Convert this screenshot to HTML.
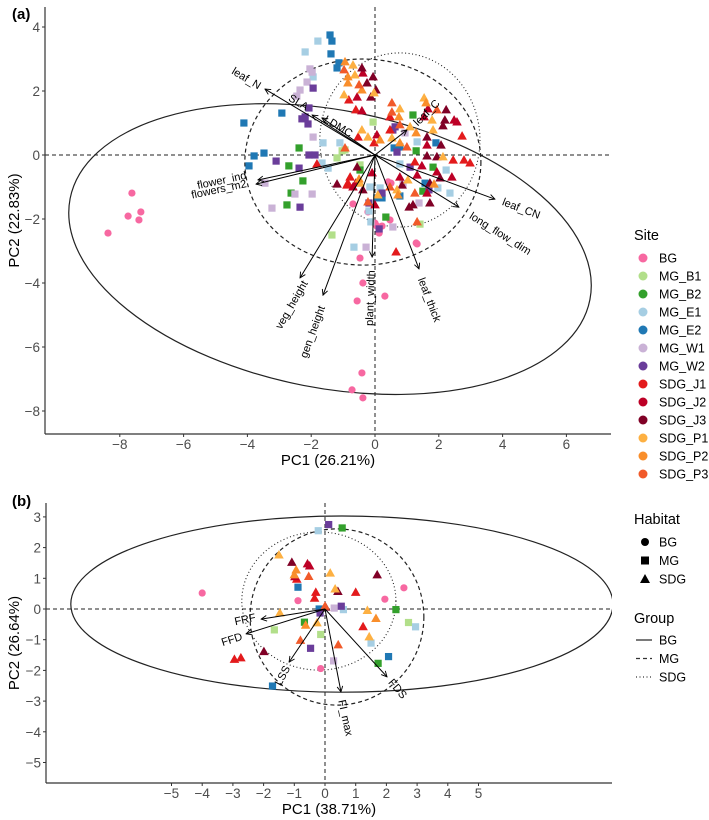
<!DOCTYPE html>
<html><head><meta charset="utf-8">
<style>
html,body{margin:0;padding:0;background:#fff;}
svg{display:block;font-family:"Liberation Sans",Arial,sans-serif;}
</style></head>
<body>
<svg id="chart" width="709" height="820" viewBox="0 0 709 820" xmlns="http://www.w3.org/2000/svg">
<defs>
<marker id="ah" viewBox="0 0 10 10" refX="9" refY="5" markerWidth="7" markerHeight="7" orient="auto-start-reverse"><path d="M1,1 L9,5 L1,9" fill="none" stroke="#000" stroke-width="1.3"/></marker>
<clipPath id="clipA"><rect x="45" y="7" width="566" height="427"/></clipPath>
<clipPath id="clipB"><rect x="46" y="503" width="566" height="280"/></clipPath>
</defs>
<g id="panelA"></g>
<g id="panelB"></g>
<g id="legend"></g>
</svg>
<script>
// ---------- Panel (a) data: site -> [PC1, PC2] ----------
const A_BG=[[-7.62,-1.19],[-7.74,-1.91],[-7.40,-2.03],[-7.34,-1.78],[-8.37,-2.44],[0.41,-0.84],[-0.69,-1.53],[-0.22,-1.78],[0.47,-2.03],[0.13,-2.44],[0.06,-2.22],[0.22,-2.22],[1.32,-2.78],[-0.47,-3.22],[-0.38,-4.0],[-0.56,-4.56],[0.31,-4.41],[-0.41,-6.81],[-0.72,-7.34],[-0.38,-7.59],[0.50,-0.88],[0,-2.13],[1.29,-2.75]];
const A_MG_B1=[[-0.94,0.16],[-1.19,-0.09],[-1.35,-2.5],[-0.06,1.03],[-1.03,0.13],[1.41,-2.16],[-0.47,-0.31]];
const A_MG_B2=[[-2.38,0.22],[-2.70,-0.34],[-2.26,-0.81],[-2.63,-1.19],[-2.76,-1.56],[1.19,1.25],[1.29,0.13],[1.82,-0.38],[1.50,-1.13],[0.34,-1.94],[-0.47,-0.47]];
const A_MG_E1=[[-1.79,3.56],[-2.19,3.22],[-1.94,2.44],[-1.63,0.38],[-1.10,0.38],[-1.47,-0.41],[-1.66,-0.25],[-0.66,-2.88],[0.78,-0.28],[2.23,-0.47],[1.97,-1.03],[-0.16,-1.0],[1.32,0.41],[2.35,-1.19],[-0.13,-2.09],[-0.19,-1.75],[0.16,-1.03]];
const A_MG_E2=[[-1.41,3.75],[-1.35,3.56],[-1.38,3.16],[-1.19,2.72],[-1.13,2.88],[-2.92,1.31],[-4.11,1.0],[-3.79,-0.03],[-3.48,0.06],[-3.95,-0.34],[0.60,0.22],[0.78,0.25],[1.91,0.38],[1.57,-0.88],[0.22,-1.34],[0.78,-1.28],[0.06,-1.34]];
const A_MG_W1=[[-2.04,2.69],[-1.97,2.59],[-2.13,2.28],[-2.35,2.03],[-2.45,1.84],[-1.94,0.56],[-2.51,-1.22],[-1.97,-1.22],[-3.23,-1.66],[-3.45,-0.88],[0.88,-0.91],[1.38,-1.5],[0.94,0.69],[-0.28,-2.88],[0.56,-2.25]];
const A_MG_W2=[[-1.94,2.09],[-2.07,1.47],[-2.29,1.13],[-2.19,1.19],[-2.10,0.97],[-3.10,-0.19],[-2.07,0],[-1.88,0],[-2.38,-0.41],[-2.35,-1.63],[0.56,0.78],[0.63,0.88],[1.10,-0.38],[1.69,-1.09],[0.69,0.09],[0.13,-2.31],[-0.19,-1.5],[0.22,-1.19]];
const A_SDG_J1=[[-0.82,1.72],[-0.60,1.41],[0.47,1.19],[0.47,0.78],[2.73,0.59],[-0.53,0.56],[-0.03,0.38],[2.45,-0.16],[2.79,-0.16],[2.98,-0.25],[1.25,-0.22],[-1.82,-0.28],[-0.78,-0.69],[-0.88,-0.94],[0.66,-3.03],[-0.85,-0.88]];
const A_SDG_J2=[[-0.38,2.56],[-0.56,1.81],[-0.41,1.38],[1.66,1.44],[1.54,1.19],[2.48,1.09],[2.57,1.03],[0.06,0.63],[1.63,0.31],[1.47,-0.34],[1.94,-0.53],[2.41,-0.69],[1.32,-0.63],[0.78,-0.69],[-0.09,-0.56],[-0.69,-1.0],[1.63,-1.19],[0,-1.56],[-0.60,-0.88]];
const A_SDG_J3=[[-0.41,2.72],[-0.06,2.44],[-0.25,2.25],[-0.13,1.81],[0.03,2.03],[2.23,1.41],[2.19,1.09],[1.63,0.56],[2.13,0.91],[2.07,0.31],[1.63,-0.03],[1.94,-0.06],[2.04,-0.72],[1.72,-0.88],[0.85,-0.94],[1.72,-1.5],[1.19,-1.56],[-0.56,-0.38],[-1.19,-0.91],[-0.38,-1.09],[1.07,-1.63]];
const A_SDG_P1=[[-0.69,2.81],[-0.63,2.5],[-0.97,1.88],[-0.03,1.94],[0.78,1.44],[1.54,1.78],[1.79,1.09],[1.10,0.88],[1.82,0.78],[0.53,0.53],[-0.41,0.78],[-0.22,0.56],[2.13,-0.06],[1.03,-0.78],[0.69,-1.09],[-0.47,-0.88],[0.09,-1.25]];
const A_SDG_P2=[[-0.94,2.91],[-0.85,2.44],[-0.85,2.25],[-0.41,2.03],[0.75,1.19],[1.60,1.63],[1.29,0.69],[0.16,0.47],[1.85,-0.91],[0.72,-1.25],[-0.50,-0.75],[0.78,0.38]];
const A_SDG_P3=[[-0.97,2.66],[-0.50,2.19],[0.53,1.63],[0.53,1.34],[1.94,1.41],[0.78,0.94],[1.0,0.25],[1.25,-1.19],[0.47,-1.0],[-0.22,-1.47],[1.32,-2.09],[-0.94,0.22]];
// loadings (a)
const A_LOAD_NAMES=["leaf_N","SLA","LDMC","flower_ind","flowers_m2","veg_height","gen_height","plant_width","leaf_thick","leaf_C","leaf_CN","long_flow_dim"];
const A_LOAD_X=[-3.45,-1.97,-1.66,-3.67,-3.73,-2.35,-1.63,-0.09,1.38,1.0,3.76,2.63];
const A_LOAD_Y=[2.06,1.25,1.16,-0.78,-0.91,-3.84,-4.38,-3.19,-3.56,0.78,-1.38,-1.63];
const A_LAB_X=[-4.04,-2.41,-1.16,-4.8,-4.89,-2.6,-1.94,-0.13,1.69,1.63,4.58,3.92];
const A_LAB_Y=[2.38,1.63,0.88,-0.81,-1.09,-4.69,-5.53,-4.47,-4.53,1.31,-1.69,-2.47];
const A_LAB_ANG=[31,31,31,-12,-12,-60,-70,-88,69,-45,21,32];
const A_XTICKS=[-8,-6,-4,-2,0,2,4,6];
const A_YTICKS=[4,2,0,-2,-4,-6,-8];

// ---------- Panel (b) data ----------
const B_BG=[[-4.0,0.52],[-0.88,0.27],[1.95,0.32],[2.57,0.69],[-0.14,-1.94]];
const B_MG_B1=[[-1.65,-0.68],[-0.14,-0.83],[2.72,-0.44]];
const B_MG_B2=[[0.56,2.64],[-0.67,-0.43],[2.31,-0.02],[1.73,-1.77]];
const B_MG_E1=[[-0.22,2.55],[2.95,-0.58],[1.5,-1.11],[0.6,-0.02]];
const B_MG_E2=[[-0.88,0.71],[2.07,-1.55],[-1.71,-2.51],[-0.19,0]];
const B_MG_W1=[[0.28,-1.69],[0.3,0.03]];
const B_MG_W2=[[0.12,2.75],[-0.47,-1.28],[0.53,0.09],[-0.16,-0.13]];
const B_SDG_J1=[[-2.95,-1.64],[-2.74,-1.59],[-0.3,0.54],[1.24,-0.58],[1.0,0.54],[-0.34,0.35],[-0.92,0.97]];
const B_SDG_J2=[[-0.5,1.4],[-0.57,1.47],[-0.98,1.05]];
const B_SDG_J3=[[-1.08,1.52],[-1.99,-1.39],[1.7,1.11],[0.42,0.57],[0.02,0.06]];
const B_SDG_P1=[[-1.5,1.76],[0.17,1.17],[0.33,0.65],[1.38,-0.05],[1.44,-0.91],[-1.47,-0.13],[-0.26,-0.45]];
const B_SDG_P2=[[-0.94,1.27],[-1.0,1.11],[1.66,-0.31],[-0.63,-0.53]];
const B_SDG_P3=[[-0.53,1.06],[-0.8,-1.02],[0.43,-1.17],[0,0.09]];
const B_LOAD_NAMES=["FRF","FFD","LSS","FI_max","FDS"];
const B_LOAD_X=[-2.08,-2.57,-1.17,0.52,2.02];
const B_LOAD_Y=[-0.33,-0.81,-1.73,-2.70,-2.21];
const B_LAB_X=[-2.6,-3.03,-1.37,0.65,2.35];
const B_LAB_Y=[-0.36,-1.01,-2.18,-3.55,-2.61];
const B_LAB_ANG=[-12,-18,-62,78,50];
const B_XTICKS=[-5,-4,-3,-2,-1,0,1,2,3,4,5];
const B_YTICKS=[3,2,1,0,-1,-2,-3,-4,-5];

const SITES=["BG","MG_B1","MG_B2","MG_E1","MG_E2","MG_W1","MG_W2","SDG_J1","SDG_J2","SDG_J3","SDG_P1","SDG_P2","SDG_P3"];
const COLORS={BG:"#f768a1",MG_B1:"#b2df8a",MG_B2:"#33a02c",MG_E1:"#a6cee3",MG_E2:"#1f78b4",MG_W1:"#cab2d6",MG_W2:"#6a3d9a",SDG_J1:"#e31a1c",SDG_J2:"#bd0026",SDG_J3:"#800026",SDG_P1:"#fdb042",SDG_P2:"#f98e2b",SDG_P3:"#f15a2a"};
const A_DATA={BG:A_BG,MG_B1:A_MG_B1,MG_B2:A_MG_B2,MG_E1:A_MG_E1,MG_E2:A_MG_E2,MG_W1:A_MG_W1,MG_W2:A_MG_W2,SDG_J1:A_SDG_J1,SDG_J2:A_SDG_J2,SDG_J3:A_SDG_J3,SDG_P1:A_SDG_P1,SDG_P2:A_SDG_P2,SDG_P3:A_SDG_P3};
const B_DATA={BG:B_BG,MG_B1:B_MG_B1,MG_B2:B_MG_B2,MG_E1:B_MG_E1,MG_E2:B_MG_E2,MG_W1:B_MG_W1,MG_W2:B_MG_W2,SDG_J1:B_SDG_J1,SDG_J2:B_SDG_J2,SDG_J3:B_SDG_J3,SDG_P1:B_SDG_P1,SDG_P2:B_SDG_P2,SDG_P3:B_SDG_P3};

const NS="http://www.w3.org/2000/svg";
function mk(parent,tag,attrs,text){const e=document.createElementNS(NS,tag);for(const k in attrs)e.setAttribute(k,attrs[k]);if(text!==undefined)e.textContent=text;parent.appendChild(e);return e;}
function habitat(s){return s==="BG"?"BG":(s.startsWith("MG")?"MG":"SDG");}
function marker(g,s,px,py){
  const h=habitat(s),c=COLORS[s];let e;
  if(h==="BG")e=mk(g,"circle",{cx:px,cy:py,r:3.6,fill:c});
  else if(h==="MG")e=mk(g,"rect",{x:px-3.6,y:py-3.6,width:7.2,height:7.2,fill:c});
  else e=mk(g,"polygon",{points:`${px},${py-5} ${px-4.8},${py+3.5} ${px+4.8},${py+3.5}`,fill:c});
  return e;
}

function panel(root,cfg){
  const sx=v=>cfg.x0+v*cfg.kx, sy=v=>cfg.y0-v*cfg.ky;
  const L=cfg.left,R=cfg.right,T=cfg.top,B=cfg.bottom;
  const tag=mk(root,"text",{x:cfg.tagX,y:cfg.tagY,"font-size":15,"font-weight":"bold",fill:"#000"},cfg.tag);
  
  
  const plot=mk(root,"g",{"clip-path":`url(#${cfg.clip})`});
  
  
  const hl=mk(plot,"line",{x1:L,x2:R,y1:sy(0),y2:sy(0),stroke:"#222","stroke-width":1,"stroke-dasharray":"4,3"});
  
  
  const vl=mk(plot,"line",{x1:sx(0),x2:sx(0),y1:T,y2:B,stroke:"#222","stroke-width":1,"stroke-dasharray":"4,3"});
  
  
  cfg.ellipses.forEach(el=>{
    const e=mk(plot,"ellipse",{cx:sx(el.cx),cy:sy(el.cy),rx:el.rx*cfg.kx,ry:el.ry*cfg.ky,transform:`rotate(${el.rot} ${sx(el.cx)} ${sy(el.cy)})`,fill:"none",stroke:"#222","stroke-width":el.dash==="1,2.5"?1.1:1.2,"stroke-dasharray":el.dash});
    
    
  });
  SITES.forEach(s=>{
    cfg.data[s].forEach(p=>{
      const m=marker(plot,s,sx(p[0]),sy(p[1]));
      
      
    });
  });
  cfg.names.forEach((n,i)=>{
    const a=mk(plot,"line",{x1:sx(0),y1:sy(0),x2:sx(cfg.lx[i]),y2:sy(cfg.ly[i]),stroke:"#000","stroke-width":1,"marker-end":"url(#ah)"});
    
    
    const tx=sx(cfg.tx[i]),ty=sy(cfg.ty[i]);
    const t=mk(plot,"text",{x:tx,y:ty,"font-size":11,fill:"#000","text-anchor":"middle","dominant-baseline":"central",transform:`rotate(${cfg.ang[i]} ${tx} ${ty})`},n);
    
    
  });
  const ax=mk(root,"line",{x1:L,x2:R,y1:B,y2:B,stroke:"#333","stroke-width":1.2});
  
  
  const ay=mk(root,"line",{x1:L,x2:L,y1:T,y2:B,stroke:"#333","stroke-width":1.2});
  
  
  cfg.xt.forEach(v=>{
    mk(root,"line",{x1:sx(v),x2:sx(v),y1:B,y2:B+3,stroke:"#333"});
    const t=mk(root,"text",{x:sx(v),y:B+15,"font-size":13.5,fill:"#4d4d4d","text-anchor":"middle"},v<0?"\u2212"+(-v):String(v));
    
    
  });
  cfg.yt.forEach(v=>{
    mk(root,"line",{x1:L-3,x2:L,y1:sy(v),y2:sy(v),stroke:"#333"});
    const t=mk(root,"text",{x:L-5,y:sy(v)+5,"font-size":13.5,fill:"#4d4d4d","text-anchor":"end"},v<0?"\u2212"+(-v):String(v));
    
    
  });
  const xt=mk(root,"text",{x:(L+R)/2,y:B+31,"font-size":15,fill:"#000","text-anchor":"middle"},cfg.xtitle);
  
  
  const yc=(T+B)/2;
  const yt=mk(root,"text",{x:19,y:yc,"font-size":15,fill:"#000","text-anchor":"middle",transform:`rotate(-90 19 ${yc})`},cfg.ytitle);
  
  
}

panel(document.getElementById("panelA"),{
  x0:375,y0:155,kx:31.9,ky:32,left:45,right:611,top:7,bottom:434,clip:"clipA",
  tag:"(a)",tagX:12,tagY:19,data:A_DATA,
  names:A_LOAD_NAMES,lx:A_LOAD_X,ly:A_LOAD_Y,tx:A_LAB_X,ty:A_LAB_Y,ang:A_LAB_ANG,
  xt:A_XTICKS,yt:A_YTICKS,xtitle:"PC1 (26.21%)",ytitle:"PC2 (22.83%)",
  ellipses:[{grp:"BG",cx:-1.41,cy:-2.94,rx:8.3,ry:4.34,rot:11,dash:"none"},
            {grp:"MG",cx:-0.38,cy:-0.22,rx:3.70,ry:3.22,rot:0,dash:"4,3"},
            {grp:"SDG",cx:0.78,cy:0.47,rx:2.51,ry:2.72,rot:0,dash:"1,2.5"}]
});
panel(document.getElementById("panelB"),{
  x0:325,y0:609,kx:30.7,ky:30.7,left:46,right:612,top:503,bottom:783,clip:"clipB",
  tag:"(b)",tagX:12,tagY:506,data:B_DATA,
  names:B_LOAD_NAMES,lx:B_LOAD_X,ly:B_LOAD_Y,tx:B_LAB_X,ty:B_LAB_Y,ang:B_LAB_ANG,
  xt:B_XTICKS,yt:B_YTICKS,xtitle:"PC1 (38.71%)",ytitle:"PC2 (26.64%)",
  ellipses:[{grp:"BG",cx:0.55,cy:0.16,rx:8.83,ry:2.87,rot:0,dash:"none"},
            {grp:"MG",cx:0.39,cy:-0.26,rx:2.83,ry:2.87,rot:0,dash:"4,3"},
            {grp:"SDG",cx:-0.2,cy:0.26,rx:2.51,ry:2.25,rot:0,dash:"1,2.5"}]
});

const lg=document.getElementById("legend");
const st=mk(lg,"text",{x:634,y:240,"font-size":14.5,fill:"#000"},"Site");


SITES.forEach((s,i)=>{
  const y=258+i*18;
  const g=mk(lg,"g",{});
  
  
  mk(g,"circle",{cx:643,cy:y,r:4.5,fill:COLORS[s]});
  mk(g,"text",{x:659,y:y+4.5,"font-size":12.5,fill:"#000"},s);
});
const ht=mk(lg,"text",{x:634,y:524,"font-size":14.5,fill:"#000"},"Habitat");


["BG","MG","SDG"].forEach((h,i)=>{
  const y=542+i*18.5,x=645;
  const g=mk(lg,"g",{});
  
  
  if(h==="BG")mk(g,"circle",{cx:x,cy:y,r:4,fill:"#000"});
  else if(h==="MG")mk(g,"rect",{x:x-4,y:y-4,width:8,height:8,fill:"#000"});
  else mk(g,"polygon",{points:`${x},${y-5} ${x-5},${y+4} ${x+5},${y+4}`,fill:"#000"});
  mk(g,"text",{x:659,y:y+4.5,"font-size":12.5,fill:"#000"},h);
});
const gt=mk(lg,"text",{x:634,y:623,"font-size":14.5,fill:"#000"},"Group");


[["BG","none"],["MG","4,3"],["SDG","1,2.5"]].forEach((d,i)=>{
  const y=640+i*18.5;
  const g=mk(lg,"g",{});
  
  
  mk(g,"line",{x1:636,x2:652,y1:y,y2:y,stroke:"#333","stroke-width":1.3,"stroke-dasharray":d[1]});
  mk(g,"text",{x:659,y:y+4.5,"font-size":12.5,fill:"#000"},d[0]);
});
</script>
</body></html>
